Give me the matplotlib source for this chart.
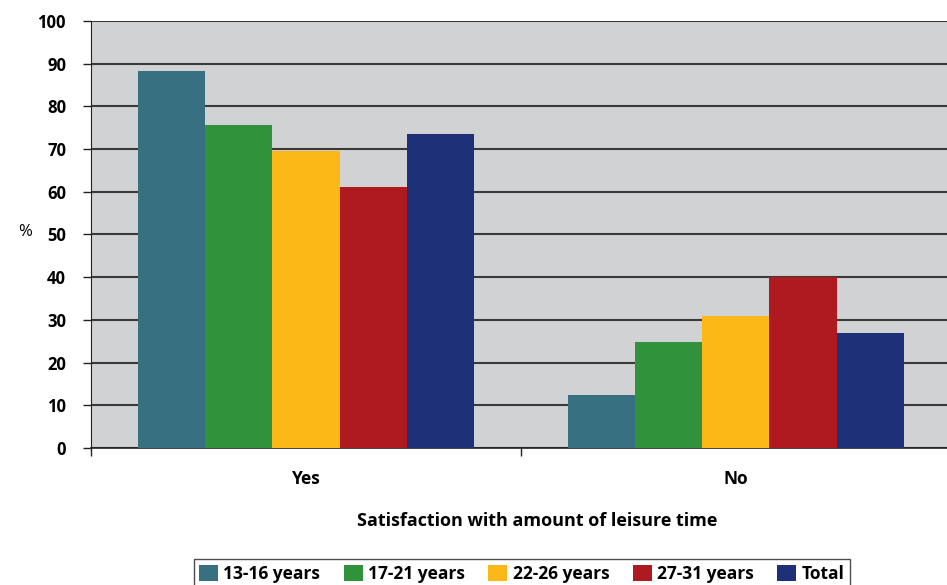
import matplotlib.pyplot as plt
import numpy as np

# Satisfaction with amount of leisure time, by age group (%)
categories = ["Yes", "No"]
groups = ["13-16 years", "17-21 years", "22-26 years", "27-31 years", "Total"]
values = {
    "13-16 years": [88.3, 12.4],
    "17-21 years": [75.6, 24.8],
    "22-26 years": [69.6, 30.9],
    "27-31 years": [61.1, 40.0],
    "Total": [73.5, 26.9],
}
colors = ["#377080", "#30923b", "#fbb817", "#ae1a20", "#1d3078"]

plt.rcParams['font.family'] = ['Open Sans', 'DejaVu Sans']

fig = plt.figure(figsize=(9.47, 5.85), dpi=100)
ax = fig.add_axes([0.0961, 0.2342, 0.908, 0.7299])
ax.set_facecolor("#d1d2d4")

x = np.arange(len(categories))
w = 0.156
for i, g in enumerate(groups):
    ax.bar(x + (i - 2) * w, values[g], width=w, color=colors[i], label=g, zorder=3)

ax.set_ylim(0, 100)
ax.set_xlim(-0.5, 1.5)
ax.set_yticks(range(0, 101, 10))
ax.yaxis.grid(True, color="#3a3a3a", linewidth=1.5, zorder=1)
ax.set_axisbelow(True)

ax.set_xticks(x)
ax.set_xticklabels(categories, fontsize=12.5, fontweight="bold")
ax.set_xticks([-0.5, 0.5, 1.5], minor=True)
ax.tick_params(axis="x", which="major", length=0, pad=16)
ax.tick_params(axis="x", which="minor", length=6, width=1, color="#222222", direction="out")
ax.tick_params(axis="y", length=6, width=1, color="#222222", labelsize=12, pad=12)
for lab in ax.get_yticklabels():
    lab.set_fontweight("bold")

for s in ["top", "right"]:
    ax.spines[s].set_visible(False)
ax.spines["left"].set_color("#222222")
ax.spines["bottom"].set_color("#222222")
ax.spines["bottom"].set_linewidth(1.2)

fig.text(0.019, 0.603, "%", fontsize=12, va="center", ha="left")
fig.text(0.567, 0.109, "Satisfaction with amount of leisure time", fontsize=13,
         fontweight="bold", ha="center", va="center")

leg = fig.legend(loc="lower center", bbox_to_anchor=(0.551, -0.02), ncol=5,
                 frameon=True, fancybox=False, edgecolor="#222222",
                 handlelength=1.1, handleheight=1.1, handletextpad=0.3,
                 columnspacing=1.35, borderpad=0.3,
                 prop={"size": 12.5, "weight": "bold"})
leg.get_frame().set_linewidth(1.0)

fig.savefig("out.png", dpi=100)
